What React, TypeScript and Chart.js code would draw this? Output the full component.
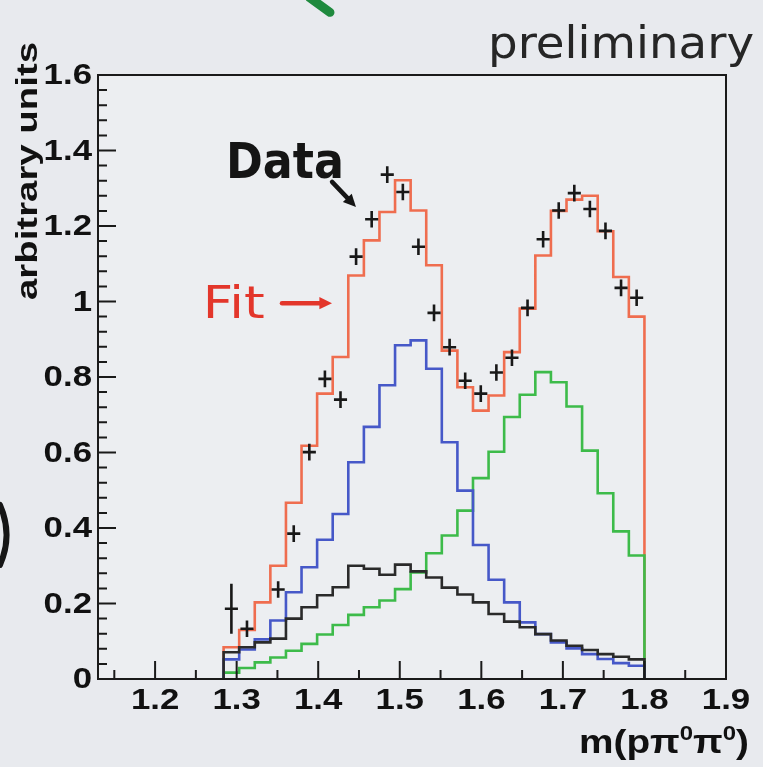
import React, { useEffect, useRef } from "react";
import { Chart, registerables } from "chart.js";

Chart.register(...registerables);

// Histogram binning in m(p pi0 pi0)
const binLow = 1.284;
const binHigh = 1.8;

// Total fit (red)
const fitValues = [0.084, 0.13, 0.203, 0.3, 0.467, 0.618, 0.756, 0.853, 1.069, 1.162, 1.237, 1.321, 1.241, 1.096, 0.87, 0.773, 0.711, 0.751, 0.866, 0.981, 1.122, 1.24, 1.27, 1.28, 1.186, 1.065, 0.96];
// N(1520) component (blue)
const lowPeakValues = [0.052, 0.078, 0.105, 0.155, 0.23, 0.296, 0.369, 0.437, 0.574, 0.668, 0.778, 0.884, 0.897, 0.822, 0.627, 0.499, 0.355, 0.263, 0.203, 0.15, 0.119, 0.097, 0.081, 0.066, 0.053, 0.042, 0.035];
// N(1680) component (green)
const highPeakValues = [0.017, 0.029, 0.044, 0.057, 0.075, 0.093, 0.118, 0.143, 0.17, 0.19, 0.208, 0.238, 0.282, 0.333, 0.38, 0.446, 0.532, 0.602, 0.694, 0.753, 0.813, 0.786, 0.722, 0.605, 0.492, 0.391, 0.327];
// Smooth background component (black)
const backgroundValues = [0.071, 0.084, 0.097, 0.107, 0.16, 0.19, 0.222, 0.243, 0.3, 0.292, 0.276, 0.303, 0.285, 0.269, 0.242, 0.224, 0.203, 0.172, 0.152, 0.137, 0.119, 0.102, 0.088, 0.077, 0.066, 0.059, 0.052];
// Measured points with vertical errors
const dataValues = [0.186, 0.133, null, 0.237, 0.385, 0.601, 0.795, 0.74, 1.119, 1.218, 1.336, 1.29, 1.145, 0.97, 0.879, 0.79, 0.756, 0.812, 0.851, 0.983, 1.165, 1.241, 1.287, 1.245, 1.187, 1.036, 1.01];
const dataErrors = [0.066, 0.022, 0.022, 0.022, 0.022, 0.022, 0.022, 0.022, 0.022, 0.022, 0.022, 0.022, 0.022, 0.022, 0.022, 0.022, 0.022, 0.022, 0.022, 0.022, 0.022, 0.022, 0.022, 0.022, 0.022, 0.022, 0.022];

const xTicks = [1.2, 1.3, 1.4, 1.5, 1.6, 1.7, 1.8, 1.9];
const yTicks = [0, 0.2, 0.4, 0.6, 0.8, 1, 1.2, 1.4, 1.6];

const xMin = 1.13;
const xMax = 1.9;
const yMin = 0;
const yMax = 1.6;

const COLORS = {
  fit: "#ef6d4f",
  low: "#4658c8",
  high: "#3dbb4a",
  bkg: "#2a2a2a",
  data: "#181818",
  frame: "#1a1a1a",
  page: "#e8eaee",
  pad: "#eceef1",
};

const LABEL_FONT = '"Liberation Sans", Arial, sans-serif';
const TICK_FONT = `bold 30px ${LABEL_FONT}`;
const TICK_STRETCH = 1.16;

const binWidth = (binHigh - binLow) / fitValues.length;

function histPoints(values: number[]) {
  const pts: { x: number; y: number }[] = [{ x: binLow, y: 0 }];
  values.forEach((v, i) => pts.push({ x: binLow + i * binWidth, y: v }));
  pts.push({ x: binHigh, y: values[values.length - 1] });
  pts.push({ x: binHigh, y: 0 });
  return pts;
}

function dataPoints() {
  return dataValues.map((v, i) => ({ x: binLow + (i + 0.5) * binWidth, y: v }));
}

function fmt(v: number) {
  return String(Number(v.toFixed(2)));
}

function fittedText(
  ctx: CanvasRenderingContext2D,
  text: string,
  cx: number,
  baseline: number,
  width: number,
  font: string,
  color: string
) {
  ctx.save();
  ctx.font = font;
  const w = ctx.measureText(text).width;
  ctx.translate(cx, baseline);
  ctx.scale(width / w, 1);
  ctx.textAlign = "center";
  ctx.textBaseline = "alphabetic";
  ctx.fillStyle = color;
  ctx.fillText(text, 0, 0);
  ctx.restore();
}

// text drawn slightly widened, anchored by align at (x, y)
function wideText(
  ctx: CanvasRenderingContext2D,
  text: string,
  x: number,
  y: number,
  align: CanvasTextAlign,
  baseline: CanvasTextBaseline
) {
  ctx.save();
  ctx.translate(x, y);
  ctx.scale(TICK_STRETCH, 1);
  ctx.font = TICK_FONT;
  ctx.fillStyle = "#111";
  ctx.textAlign = align;
  ctx.textBaseline = baseline;
  ctx.fillText(text, 0, 0);
  ctx.restore();
}

function arrow(
  ctx: CanvasRenderingContext2D,
  x0: number,
  y0: number,
  x1: number,
  y1: number,
  color: string,
  lw: number,
  head: number
) {
  const a = Math.atan2(y1 - y0, x1 - x0);
  ctx.save();
  ctx.strokeStyle = color;
  ctx.fillStyle = color;
  ctx.lineWidth = lw;
  ctx.lineCap = "round";
  ctx.beginPath();
  ctx.moveTo(x0, y0);
  ctx.lineTo(x1 - Math.cos(a) * head * 0.6, y1 - Math.sin(a) * head * 0.6);
  ctx.stroke();
  ctx.beginPath();
  ctx.moveTo(x1, y1);
  ctx.lineTo(x1 - head * Math.cos(a - 0.45), y1 - head * Math.sin(a - 0.45));
  ctx.lineTo(x1 - head * Math.cos(a + 0.45), y1 - head * Math.sin(a + 0.45));
  ctx.closePath();
  ctx.fill();
  ctx.restore();
}

const rootStyle = {
  id: "rootStyle",
  beforeDraw(chart: any) {
    const { ctx, chartArea: a } = chart;
    ctx.save();
    ctx.fillStyle = COLORS.page;
    ctx.fillRect(0, 0, chart.width, chart.height);
    ctx.fillStyle = COLORS.pad;
    ctx.fillRect(a.left, a.top, a.right - a.left, a.bottom - a.top);
    ctx.restore();
  },
  afterDatasetsDraw(chart: any) {
    const { ctx, chartArea: a } = chart;
    const xs = chart.scales.x;
    const ys = chart.scales.y;
    const X = (v: number) => xs.getPixelForValue(v);
    const Y = (v: number) => ys.getPixelForValue(v);

    // error crosses on the measured points
    const meta = chart.getDatasetMeta(4);
    ctx.save();
    ctx.strokeStyle = COLORS.data;
    ctx.lineWidth = 2.6;
    meta.data.forEach((el: any, i: number) => {
      const v = dataValues[i];
      if (v === null || v === undefined) return;
      const cx = binLow + (i + 0.5) * binWidth;
      const hx = X(cx + binWidth * 0.42) - X(cx);
      const e = dataErrors[i];
      ctx.beginPath();
      ctx.moveTo(el.x - hx, el.y);
      ctx.lineTo(el.x + hx, el.y);
      ctx.moveTo(el.x, Y(v - e));
      ctx.lineTo(el.x, Y(v + e));
      ctx.stroke();
    });
    ctx.restore();

    // frame
    ctx.save();
    ctx.strokeStyle = COLORS.frame;
    ctx.lineWidth = 2;
    ctx.strokeRect(a.left, a.top, a.right - a.left, a.bottom - a.top);

    // inward ticks on bottom axis (major 0.1, minor 0.05)
    ctx.beginPath();
    for (let k = 23; k <= 38; k++) {
      const v = k * 0.05;
      if (v < xMin - 1e-9 || v > xMax + 1e-9) continue;
      const len = k % 2 === 0 ? 18 : 9;
      const px = X(v);
      ctx.moveTo(px, a.bottom);
      ctx.lineTo(px, a.bottom - len);
    }
    // inward ticks on left axis (major 0.2, minor 0.04)
    for (let k = 0; k <= 40; k++) {
      const v = k * 0.04;
      const len = k % 5 === 0 ? 18 : 9;
      const py = Y(v);
      ctx.moveTo(a.left, py);
      ctx.lineTo(a.left + len, py);
    }
    ctx.stroke();
    ctx.restore();

    // tick labels
    xs.ticks.forEach((t: any) => {
      wideText(ctx, fmt(t.value), X(t.value), a.bottom + 7, "center", "top");
    });
    ys.ticks.forEach((t: any) => {
      wideText(ctx, fmt(t.value), a.left - 6, Y(t.value) + 1, "right", "middle");
    });

    // y axis title, top-aligned along the axis
    ctx.save();
    ctx.fillStyle = "#111";
    ctx.font = `bold 30px ${LABEL_FONT}`;
    const yTitle = "arbitrary units";
    const yTitleLen = 258;
    const tw = ctx.measureText(yTitle).width;
    ctx.translate(37, 42);
    ctx.rotate(-Math.PI / 2);
    ctx.scale(yTitleLen / tw, 1);
    ctx.textAlign = "right";
    ctx.textBaseline = "alphabetic";
    ctx.fillText(yTitle, 0, 0);
    ctx.restore();

    // x axis title with superscripts, right-aligned
    ctx.save();
    ctx.fillStyle = "#111";
    const big = `bold 34px ${LABEL_FONT}`;
    const sup = `bold 21px ${LABEL_FONT}`;
    const parts: [string, string, number][] = [
      ["m(p\u03c0", big, 0],
      ["0", sup, -13],
      ["\u03c0", big, 0],
      ["0", sup, -13],
      [")", big, 0],
    ];
    let total = 0;
    parts.forEach(([t, f]) => {
      ctx.font = f;
      total += ctx.measureText(t).width;
    });
    const titleWidth = 170;
    const s = titleWidth / total;
    ctx.translate(a.right + 23 - titleWidth, 753);
    ctx.scale(s, 1);
    let x = 0;
    parts.forEach(([t, f, dy]) => {
      ctx.font = f;
      ctx.fillText(t, x, dy);
      x += ctx.measureText(t).width;
    });
    ctx.restore();

    // hand-written notes
    fittedText(ctx, "preliminary", X(1.7713), Y(1.645), 266, '44px "DejaVu Sans", sans-serif', "#262626");
    fittedText(ctx, "Data", X(1.3593), Y(1.327), 118, 'bold 50px "DejaVu Sans", sans-serif', "#151515");
    arrow(ctx, X(1.417), Y(1.317), X(1.4463), Y(1.2503), "#151515", 4.5, 14);
    fittedText(ctx, "Fit", X(1.2965), Y(0.9563), 62, '44px "DejaVu Sans", sans-serif', "#e3362b");
    arrow(ctx, X(1.3556), Y(0.9955), X(1.4169), Y(0.9955), "#e3362b", 4.5, 14);

    ctx.save();
    ctx.lineCap = "round";
    ctx.strokeStyle = "#1f8a3e";
    ctx.lineWidth = 9;
    ctx.beginPath();
    ctx.moveTo(X(1.3895), Y(1.805));
    ctx.lineTo(X(1.4144), Y(1.766));
    ctx.stroke();
    ctx.strokeStyle = "#161616";
    ctx.lineWidth = 6;
    ctx.beginPath();
    ctx.moveTo(X(1.0098), Y(0.461));
    ctx.quadraticCurveTo(X(1.026), Y(0.381), X(1.0098), Y(0.302));
    ctx.stroke();
    ctx.restore();
  },
};

export default function App() {
  const ref = useRef<HTMLCanvasElement | null>(null);

  useEffect(() => {
    if (!ref.current) return;
    const line = (values: number[], color: string, order: number) => ({
      type: "line" as const,
      data: histPoints(values),
      borderColor: color,
      borderWidth: 2.6,
      pointRadius: 0,
      fill: false,
      stepped: true,
      tension: 0,
      order,
    });
    const chart = new Chart(ref.current, {
      type: "line",
      data: {
        datasets: [
          line(fitValues, COLORS.fit, 5),
          line(highPeakValues, COLORS.high, 4),
          line(lowPeakValues, COLORS.low, 3),
          line(backgroundValues, COLORS.bkg, 2),
          {
            type: "scatter" as const,
            data: dataPoints(),
            pointRadius: 0,
            showLine: false,
            order: 1,
          } as any,
        ],
      },
      options: {
        animation: false,
        responsive: false,
        events: [],
        layout: { padding: { left: 0, right: 37, top: 75, bottom: 0 } },
        plugins: { legend: { display: false }, tooltip: { enabled: false } },
        scales: {
          x: {
            type: "linear",
            min: xMin,
            max: xMax,
            afterBuildTicks: (s: any) => {
              s.ticks = xTicks.map((v) => ({ value: v }));
            },
            afterFit: (s: any) => {
              s.height = 88;
            },
            grid: { display: false, drawTicks: false },
            border: { display: false },
            ticks: { display: false },
          },
          y: {
            type: "linear",
            min: yMin,
            max: yMax,
            afterBuildTicks: (s: any) => {
              s.ticks = yTicks.map((v) => ({ value: v }));
            },
            afterFit: (s: any) => {
              s.width = 98;
            },
            grid: { display: false, drawTicks: false },
            border: { display: false },
            ticks: { display: false },
          },
        },
      },
      plugins: [rootStyle],
    } as any);
    return () => chart.destroy();
  }, []);

  return (
    <div style={{ position: "absolute", left: 0, top: 0, width: 763, height: 767, background: COLORS.page }}>
      <canvas ref={ref} width={763} height={767} style={{ display: "block" }} />
    </div>
  );
}
